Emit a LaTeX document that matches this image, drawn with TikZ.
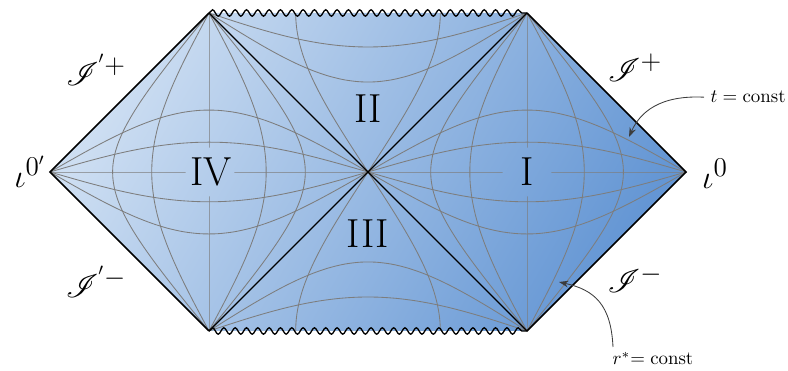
\documentclass[tikz,border=0pt]{standalone}
\usepackage{mathrsfs}
\usetikzlibrary{decorations.pathmorphing,arrows.meta}
\definecolor{bglight}{RGB}{205,222,242}
\definecolor{bgdark}{RGB}{100,150,212}
\definecolor{gridgray}{RGB}{125,125,125}
\definecolor{arrowgray}{RGB}{60,60,60}
\def\kk{1.76667}
\begin{document}
\begin{tikzpicture}[x=0.53pt,y=-0.53pt,
  gridline/.style={gridgray, line width=0.45pt},
  border/.style={black, line width=0.8pt, line join=miter},
  horizon/.style={black, line width=0.7pt},
  sing/.style={black, line width=0.7pt, decorate, decoration={snake, amplitude=1.7pt, segment length=6pt}},
  region/.style={font=\fontsize{21.5}{26}\selectfont},
  bnd/.style={font=\fontsize{19}{23}\selectfont},
  note/.style={font=\normalsize},
  pointer/.style={arrowgray, line width=0.45pt, -{Stealth[length=5pt,width=3.5pt]}}
]
\useasboundingbox (0,0) rectangle (788,371);
\coordinate (C) at (368,172);
\coordinate (W) at (50,172);
\coordinate (E) at (686,172);
\coordinate (TL) at (209,13);
\coordinate (TR) at (527,13);
\coordinate (BL) at (209,331);
\coordinate (BR) at (527,331);
\shade[top color=bglight, bottom color=bgdark, shading angle=60] (W) -- (TL) -- (TR) -- (E) -- (BR) -- (BL) -- cycle;
\node[region] (lI) at (527,172) {I};
\node[region] (lIV) at (211,172) {IV};
\node[region] (lII) at (368,109) {II};
\node[region] (lIII) at (368,234) {III};
\begin{scope}[even odd rule]
\clip (0,0) rectangle (788,371) (527,172) circle[radius=24.5] (210,172) circle[radius=24.5];
\foreach \sx in {1,-1}{
  \foreach \a in {0.27,0.55,1,1.82,3.7}{
    \draw[gridline] plot[smooth, samples=70, domain=-7:7, variable=\w]
      ({368+\sx*\kk*(atan(sqrt(\a)*exp(\w))+atan(exp(\w)/sqrt(\a)))},
       {172-\kk*(atan(sqrt(\a)*exp(\w))-atan(exp(\w)/sqrt(\a)))});
  }
  \foreach \m in {0.32,0.55,1,1.82,3.13}{
    \draw[gridline] plot[smooth, samples=70, domain=-7:7, variable=\w]
      ({368+\sx*\kk*(atan(\m*exp(\w))+atan(\m*exp(-\w)))},
       {172-\kk*(atan(\m*exp(\w))-atan(\m*exp(-\w)))});
  }
}
\foreach \sy in {1,-1}{
  \foreach \m in {0.476,0.71}{
    \draw[gridline] plot[smooth, samples=70, domain=-7:7, variable=\w]
      ({368+\kk*(atan(\m*exp(\w))-atan(\m*exp(-\w)))},
       {172-\sy*\kk*(atan(\m*exp(\w))+atan(\m*exp(-\w)))});
  }
  \foreach \b in {4.8,0.2083}{
    \draw[gridline] plot[smooth, samples=30, domain=0:1, variable=\s]
      ({368+\kk*(atan(\s*sqrt(\b))-atan(\s/sqrt(\b)))},
       {172-\sy*\kk*(atan(\s*sqrt(\b))+atan(\s/sqrt(\b)))});
  }
}
\end{scope}
\draw[horizon] (TL) -- (BR);
\draw[horizon] (BL) -- (TR);
\draw[border] (TL) -- (W) -- (BL);
\draw[border] (TR) -- (E) -- (BR);
\draw[sing] (TL) -- (TR);
\draw[sing] (BL) -- (BR);
\node[bnd] (scrip) at (635,68) {$\mathscr{I}^+$};
\node[bnd] (scrim) at (635,279) {$\mathscr{I}^-$};
\node[bnd] (scrippl) at (96,70) {$\mathscr{I}^{'+}$};
\node[bnd] (scrimpl) at (96,282) {$\mathscr{I}^{'-}$};
\node[bnd] (io) at (715,174) {$\iota^0$};
\node[bnd] (iop) at (30,172) {$\iota^{0'}$};
\node[note, anchor=base west] (tc) at (704,103) {$t=\mathrm{const}$};
\node[note, anchor=base west] (rc) at (606,365) {$r^*\mskip-\thickmuskip=\mathrm{const}$};
\coordinate (tpt) at (629,137);
\coordinate (rpt) at (559,282);
\coordinate (rstart) at (613,347);
\draw[pointer] (tc.west) .. controls (660,95) and (640,112) .. (tpt);
\draw[pointer] (rstart) .. controls (611,305) and (595,290) .. (rpt);
\end{tikzpicture}
\end{document}
